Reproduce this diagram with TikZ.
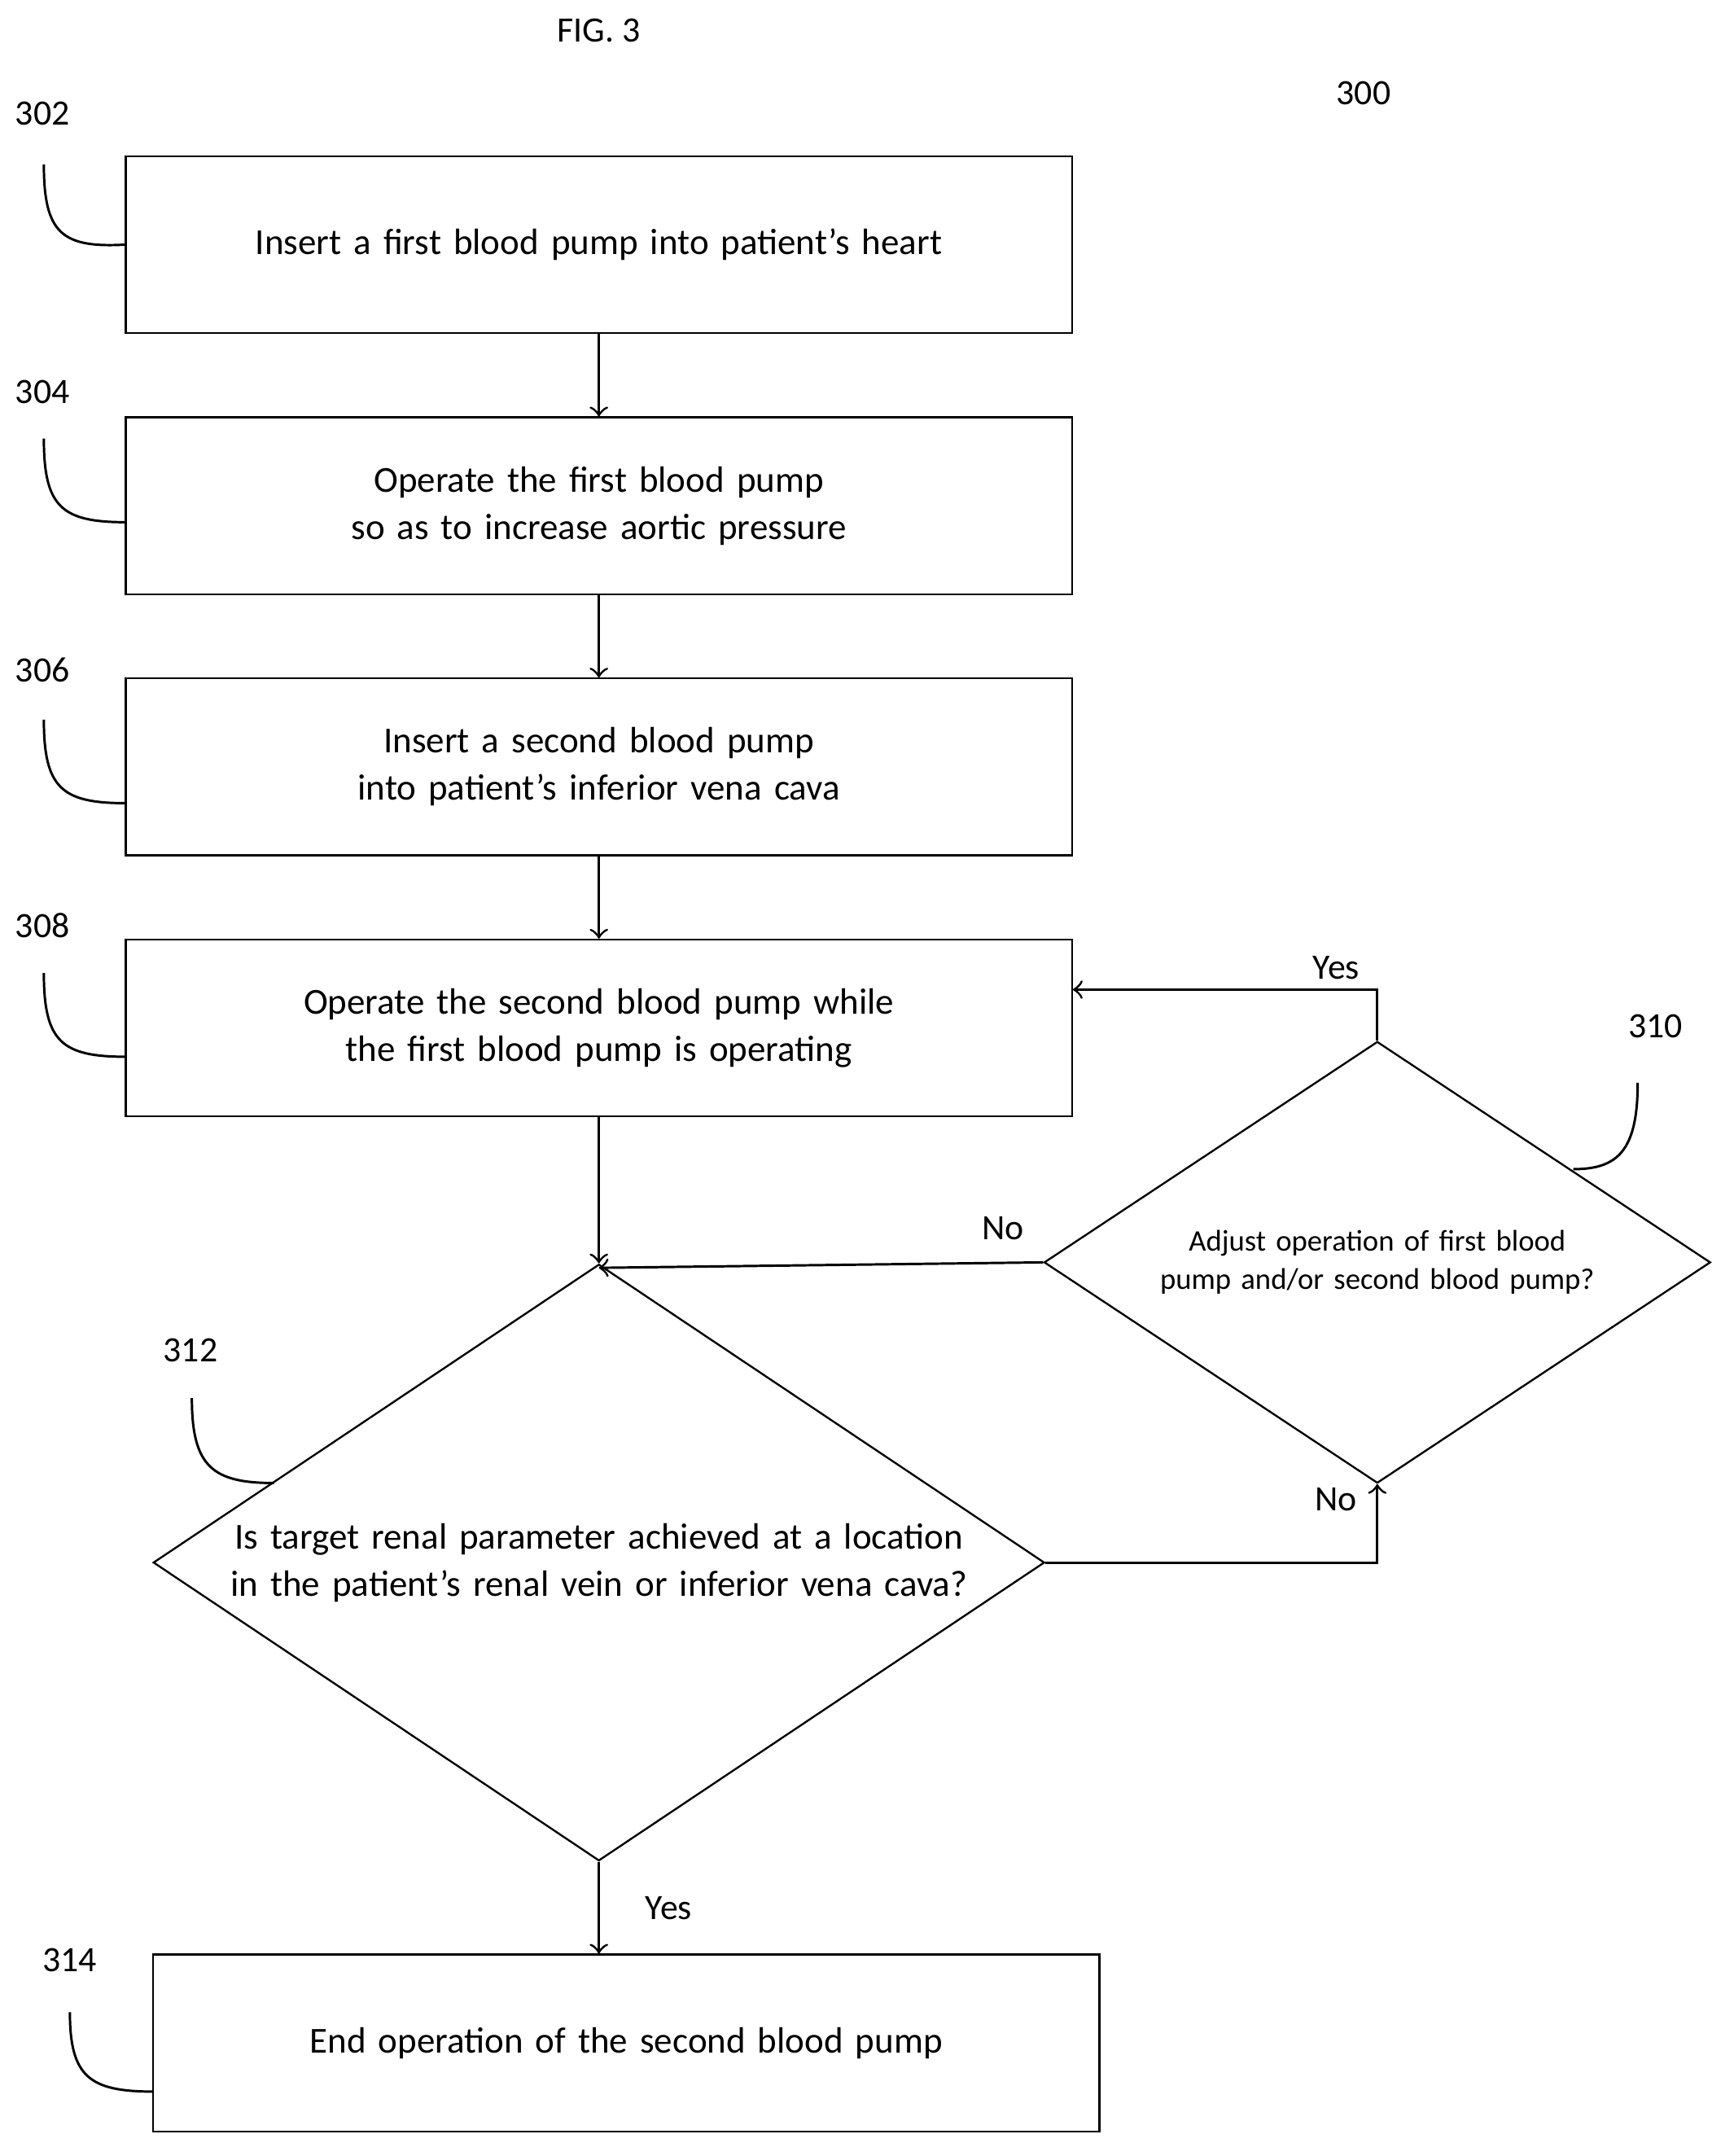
\documentclass[tikz,border=0pt]{standalone}
\usepackage{fontspec}
\setmainfont{Carlito}
\usetikzlibrary{shapes.geometric}
\begin{document}
\begin{tikzpicture}[x=0.01cm,y=-0.01cm,
				stage/.style={rectangle,draw,minimum width=6.9cm,minimum height=1.29cm,text width=6.6cm,align=center,font=\fontsize{7.6}{9.8}\selectfont},
				check/.style={diamond,draw,inner sep=0pt},
				tag/.style={font=\fontsize{7.4}{9}\selectfont},
				lead/.style={line width=0.5pt},
				flow/.style={->,line width=0.5pt}]
	\useasboundingbox (0,0) rectangle (1265,1573);
	\node[tag] (fig) at (437,22) {FIG. 3};
	\node[tag] (n300) at (995,68) {300};
	\node[stage] (S302) at (437,178.5) {Insert a first blood pump into patient’s heart};
	\node[stage,text width=6.1cm] (S304) at (437,369) {Operate the first blood pump so as to increase aortic pressure};
	\node[stage] (S306) at (437,559.5) {Insert a second blood pump into patient’s inferior vena cava};
	\node[stage] (S308) at (437,750) {Operate the second blood pump while the first blood pump is operating};
	\node[check,minimum width=6.5cm,minimum height=4.35cm] (D312) at (437,1140) {};
	\node[align=center,text width=5.6cm,font=\fontsize{7.6}{9.8}\selectfont] (T312) at (D312) {Is target renal parameter achieved at a location in the patient’s renal vein or inferior vena cava?};
	\node[check,minimum width=4.86cm,minimum height=3.22cm] (D310) at (1005,921) {};
	\node[align=center,text width=4.2cm,font=\fontsize{6.2}{8}\selectfont] (T310) at (D310) {Adjust operation of first blood pump and/or second blood pump?};
	\node[stage] (S314) at (457,1490.5) {End operation of the second blood pump};
	\node[tag] (n302) at (31,83) {302};
	\node[tag] (n304) at (31,286) {304};
	\node[tag] (n306) at (31,489) {306};
	\node[tag] (n308) at (31,675) {308};
	\node[tag] (n310) at (1208,749) {310};
	\node[tag] (n312) at (139,985) {312};
	\node[tag] (n314) at (51,1430) {314};
	\coordinate (up310) at (1005,722);
	\coordinate (in312) at (437,925);
	\coordinate (turn312) at (1005,1140);
	\draw[flow] (S302) -- (S304);
	\draw[flow] (S304) -- (S306);
	\draw[flow] (S306) -- (S308);
	\draw[flow] (S308) -- (D312.north);
	\draw[flow] (D310.west) -- (in312);
	\draw[flow] (D312.east) -- (turn312) -- (D310.south);
	\draw[flow] (D310.north) -- (up310) -- (S308.east |- up310);
	\draw[flow] (D312.south) -- (D312.south |- S314.north);
	\node[tag] (yes1) at (975,706) {Yes};
	\node[tag] (no1) at (732,896) {No};
	\node[tag] (no2) at (975,1094) {No};
	\node[tag] (yes2) at (488,1392) {Yes};
	% leaders to the boxes
	\draw[lead] (32,120) .. controls (32,170) and (45,181) .. (S302.west);
	\draw[lead] (32,320) .. controls (32,370) and (45,381) .. (92,381);
	\draw[lead] (32,525) .. controls (32,575) and (45,586) .. (92,586);
	\draw[lead] (32,710) .. controls (32,760) and (45,771) .. (92,771);
	\draw[lead] (1195,790) .. controls (1195,840) and (1180,853) .. (1148,853);
	\draw[lead] (140,1020) .. controls (140,1070) and (155,1082) .. (200,1082);
	\draw[lead] (51,1468) .. controls (51,1515) and (65,1526) .. (112,1526);
\end{tikzpicture}
\end{document}
